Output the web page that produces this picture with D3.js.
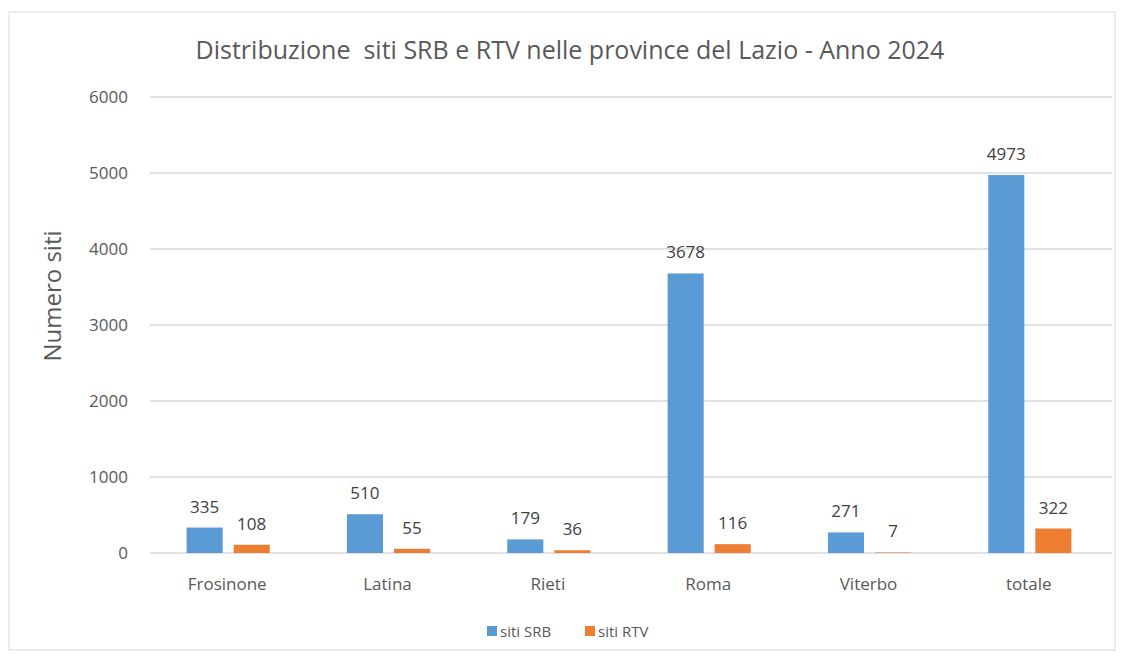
<!DOCTYPE html>
<html>
<head>
<meta charset="utf-8">
<script src="https://cdn.jsdelivr.net/npm/d3@7"></script>
<style>
  body { margin: 0; background: #fff; }
  text { font-family: "Open Sans", "Noto Sans", sans-serif; }
</style>
</head>
<body>
<div id="chart"></div>
<script>
// Dati
const province = ["Frosinone", "Latina", "Rieti", "Roma", "Viterbo", "totale"]
const sitiSRB = [335, 510, 179, 3678, 271, 4973]
const sitiRTV = [108, 55, 36, 116, 7, 322]
const serie = ["siti SRB", "siti RTV"]
const colori = ["#5b9bd5", "#ed7d31"]
const yTicks = [0, 1000, 2000, 3000, 4000, 5000, 6000]

const width = 1124
const height = 659
const margin = { top: 97, right: 12, bottom: 106, left: 150 }

const svg = d3.select("#chart").append("svg").attr("width", width).attr("height", height)

// bordo esterno
svg.append("rect").attr("x", 9).attr("y", 12).attr("width", 1106).attr("height", 638)
    .attr("fill", "#fff").attr("stroke", "#e6e6e6").attr("stroke-width", 1.5)

const data = province.map((p, i) => ({ provincia: p, valori: [sitiSRB[i], sitiRTV[i]] }))

// Scale
const x0 = d3.scaleBand().domain(province).range([margin.left, width - margin.right])
const x1 = d3.scaleBand().domain(serie).range([0, x0.bandwidth()]).paddingInner(0.234).paddingOuter(0.82)
const y = d3.scaleLinear().domain([0, 6000]).range([height - margin.bottom, margin.top])

// Griglia
svg.append("g").selectAll("line").data(yTicks).join("line")
    .attr("x1", margin.left).attr("x2", width - margin.right)
    .attr("y1", d => y(d)).attr("y2", d => y(d))
    .attr("stroke", "#d9d9d9").attr("stroke-width", 1.3)

// Asse Y
const yAxis = d3.axisLeft(y).tickValues(yTicks).tickFormat(d3.format("d")).tickSize(0).tickPadding(22)
svg.append("g").attr("transform", `translate(${margin.left},0)`).call(yAxis)
    .call(g => g.select(".domain").remove())
    .selectAll("text").attr("font-size", 17).attr("fill", "#595959")
    .style("font-family", "'Open Sans', sans-serif")

// Asse X
const xAxis = d3.axisBottom(x0).tickSize(0).tickPadding(25)
svg.append("g").attr("transform", `translate(${-3},${height - margin.bottom})`).call(xAxis)
    .call(g => g.select(".domain").remove())
    .selectAll("text").attr("font-size", 17).attr("fill", "#595959")
    .style("font-family", "'Open Sans', sans-serif")

// Barre
const gruppi = svg.append("g").selectAll("g").data(data).join("g")
    .attr("transform", d => `translate(${x0(d.provincia) - 2},0)`)

gruppi.selectAll("rect").data(d => d.valori.map((v, i) => ({ serie: serie[i], v: v, i: i }))).join("rect")
    .attr("x", d => x1(d.serie))
    .attr("y", d => y(d.v))
    .attr("width", x1.bandwidth())
    .attr("height", d => y(0) - y(d.v))
    .attr("fill", d => colori[d.i])

// Etichette dati
gruppi.selectAll("text").data(d => d.valori.map((v, i) => ({ serie: serie[i], v: v }))).join("text")
    .attr("x", d => x1(d.serie) + x1.bandwidth() / 2)
    .attr("y", d => y(d.v) - 15)
    .attr("text-anchor", "middle")
    .attr("font-size", 17)
    .attr("fill", "#404040")
    .text(d => d.v)

// Titolo
svg.append("text").attr("x", 570).attr("y", 59).attr("text-anchor", "middle")
    .attr("font-size", 25).attr("fill", "#595959")
    .style("white-space", "pre")
    .text("Distribuzione  siti SRB e RTV nelle province del Lazio - Anno 2024")

// Titolo asse Y
svg.append("text").attr("transform", "translate(61,296) rotate(-90)")
    .attr("text-anchor", "middle").attr("font-size", 24).attr("fill", "#595959")
    .text("Numero siti")

// Legenda
const legenda = svg.append("g").attr("transform", "translate(487,631)")
const voci = legenda.selectAll("g").data(serie).join("g")
    .attr("transform", (d, i) => `translate(${i * 98},0)`)
voci.append("rect").attr("x", 0).attr("y", -5).attr("width", 10).attr("height", 10)
    .attr("fill", (d, i) => colori[i])
voci.append("text").attr("x", 13).attr("y", 5.5).attr("font-size", 15).attr("fill", "#595959").text(d => d)
</script>
</body>
</html>
